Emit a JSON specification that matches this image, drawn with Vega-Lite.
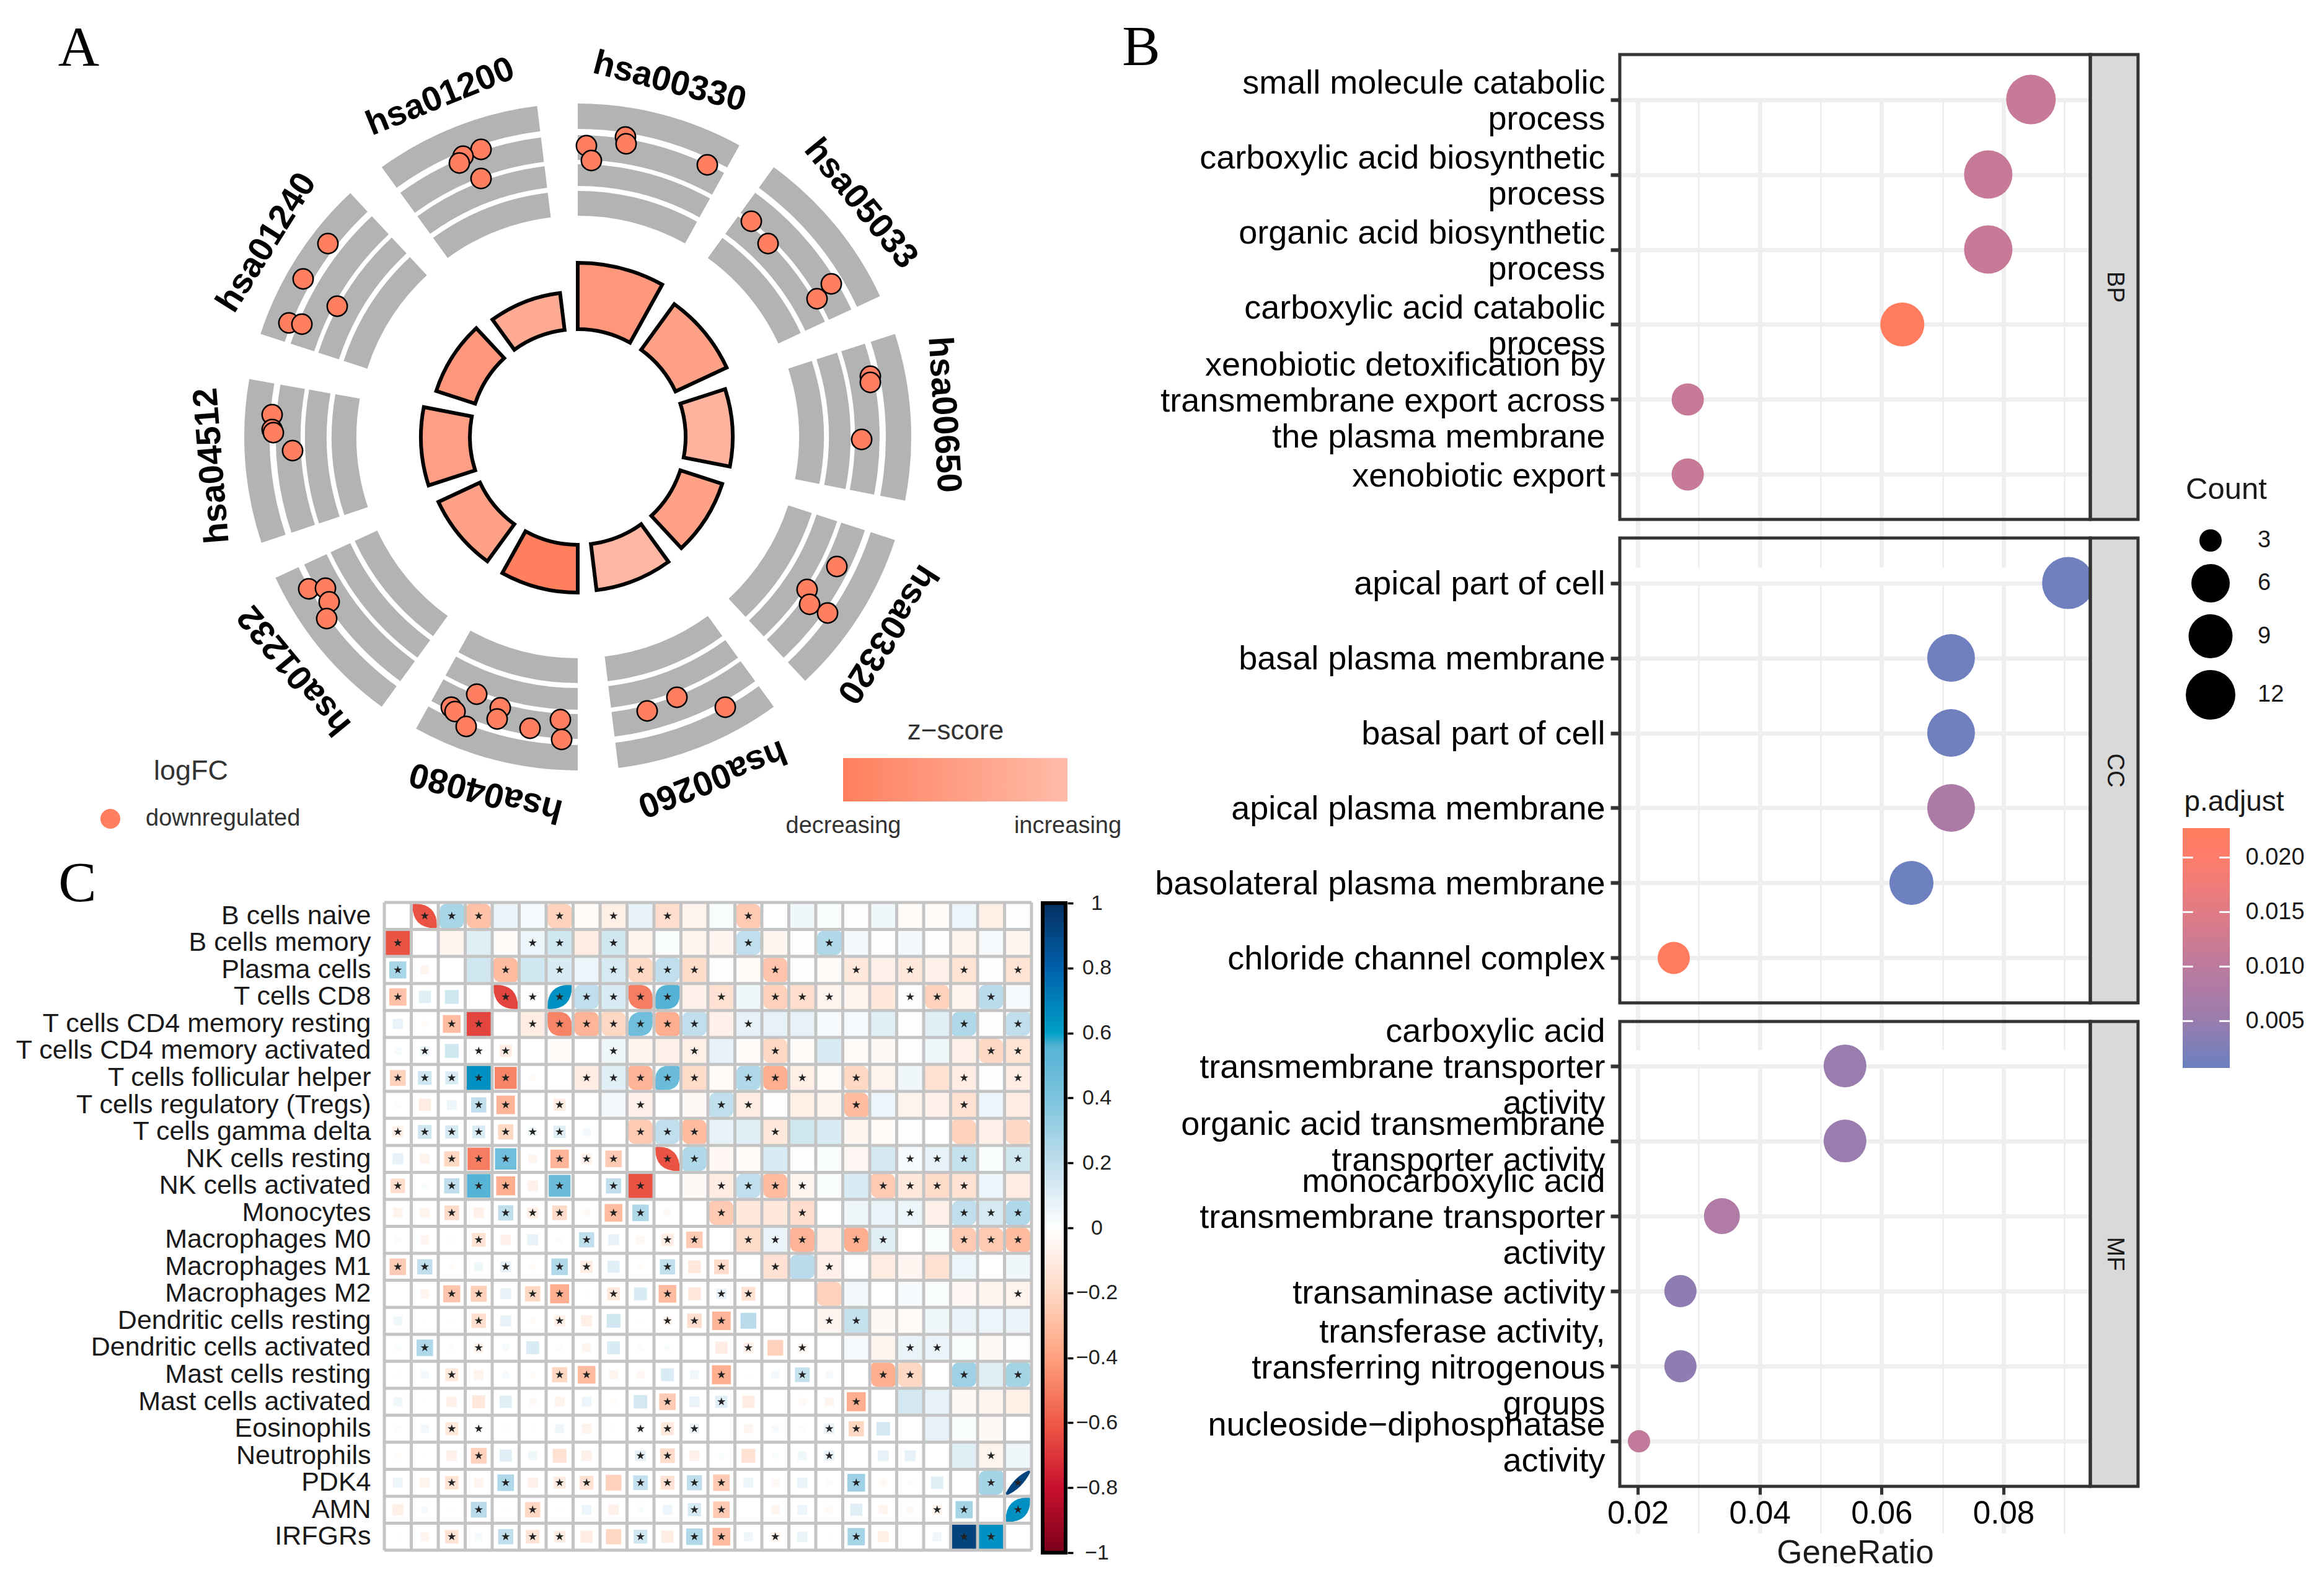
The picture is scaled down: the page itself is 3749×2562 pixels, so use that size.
{"$schema":"https://vega.github.io/schema/vega-lite/v6.json","width":3749,"height":2562,"padding":0,"autosize":{"type":"none"},"background":"white","config":{"font":"Liberation Sans","view":{"stroke":null},"axis":{"labelFont":"Liberation Sans","titleFont":"Liberation Sans"},"legend":{"labelFont":"Liberation Sans","titleFont":"Liberation Sans","titleFontWeight":"normal"}},
"datasets":{
"rings":[
{"a0":0,"a1":29,"r0":357,"r1":397},{"a0":0,"a1":29,"r0":405,"r1":440},{"a0":0,"a1":29,"r0":447,"r1":487},{"a0":0,"a1":29,"r0":497,"r1":538},
{"a0":36,"a1":65,"r0":357,"r1":397},{"a0":36,"a1":65,"r0":405,"r1":440},{"a0":36,"a1":65,"r0":447,"r1":487},{"a0":36,"a1":65,"r0":497,"r1":538},
{"a0":72,"a1":101,"r0":357,"r1":397},{"a0":72,"a1":101,"r0":405,"r1":440},{"a0":72,"a1":101,"r0":447,"r1":487},{"a0":72,"a1":101,"r0":497,"r1":538},
{"a0":108,"a1":137,"r0":357,"r1":397},{"a0":108,"a1":137,"r0":405,"r1":440},{"a0":108,"a1":137,"r0":447,"r1":487},{"a0":108,"a1":137,"r0":497,"r1":538},
{"a0":144,"a1":173,"r0":357,"r1":397},{"a0":144,"a1":173,"r0":405,"r1":440},{"a0":144,"a1":173,"r0":447,"r1":487},{"a0":144,"a1":173,"r0":497,"r1":538},
{"a0":180,"a1":209,"r0":357,"r1":397},{"a0":180,"a1":209,"r0":405,"r1":440},{"a0":180,"a1":209,"r0":447,"r1":487},{"a0":180,"a1":209,"r0":497,"r1":538},
{"a0":216,"a1":245,"r0":357,"r1":397},{"a0":216,"a1":245,"r0":405,"r1":440},{"a0":216,"a1":245,"r0":447,"r1":487},{"a0":216,"a1":245,"r0":497,"r1":538},
{"a0":251.5,"a1":280,"r0":357,"r1":397},{"a0":251.5,"a1":280,"r0":405,"r1":440},{"a0":251.5,"a1":280,"r0":447,"r1":487},{"a0":251.5,"a1":280,"r0":497,"r1":538},
{"a0":288,"a1":317,"r0":357,"r1":397},{"a0":288,"a1":317,"r0":405,"r1":440},{"a0":288,"a1":317,"r0":447,"r1":487},{"a0":288,"a1":317,"r0":497,"r1":538},
{"a0":324,"a1":353,"r0":357,"r1":397},{"a0":324,"a1":353,"r0":405,"r1":440},{"a0":324,"a1":353,"r0":447,"r1":487},{"a0":324,"a1":353,"r0":497,"r1":538}],
"terms":[
{"id":"hsa00330","a0":0,"a1":29,"mid":14.5,"top":281,"z":0.4},
{"id":"hsa05033","a0":36,"a1":65,"mid":50.5,"top":265,"z":0.55},
{"id":"hsa00650","a0":72,"a1":101,"mid":86.5,"top":250,"z":0.85},
{"id":"hsa03320","a0":108,"a1":137,"mid":122.5,"top":245,"z":0.55},
{"id":"hsa00260","a0":144,"a1":173,"mid":158.5,"top":249,"z":0.9},
{"id":"hsa04080","a0":180,"a1":209,"mid":194.5,"top":251,"z":0},
{"id":"hsa01232","a0":216,"a1":245,"mid":230.5,"top":248,"z":0.55},
{"id":"hsa04512","a0":252,"a1":281,"mid":265.5,"top":253,"z":0.5},
{"id":"hsa01240","a0":288,"a1":317,"mid":302,"top":240,"z":0.4},
{"id":"hsa01200","a0":324,"a1":353,"mid":338,"top":234,"z":0.7}],
"genes":[
{"x":77,"y":484,"logFC":"downregulated"},{"x":78,"y":473,"logFC":"downregulated"},{"x":14,"y":470,"logFC":"downregulated"},{"x":22,"y":446,"logFC":"downregulated"},{"x":209,"y":439,"logFC":"downregulated"},
{"x":280,"y":348,"logFC":"downregulated"},{"x":307,"y":312,"logFC":"downregulated"},{"x":409,"y":247,"logFC":"downregulated"},{"x":386,"y":223,"logFC":"downregulated"},
{"x":472,"y":98,"logFC":"downregulated"},{"x":472,"y":88,"logFC":"downregulated"},{"x":458,"y":-4,"logFC":"downregulated"},
{"x":418,"y":-209,"logFC":"downregulated"},{"x":370,"y":-246,"logFC":"downregulated"},{"x":374,"y":-270,"logFC":"downregulated"},{"x":403,"y":-284,"logFC":"downregulated"},
{"x":238,"y":-436,"logFC":"downregulated"},{"x":160,"y":-420,"logFC":"downregulated"},{"x":112,"y":-442,"logFC":"downregulated"},
{"x":-163,"y":-415,"logFC":"downregulated"},{"x":-204,"y":-436,"logFC":"downregulated"},{"x":-198,"y":-443,"logFC":"downregulated"},{"x":-180,"y":-467,"logFC":"downregulated"},{"x":-125,"y":-437,"logFC":"downregulated"},{"x":-130,"y":-455,"logFC":"downregulated"},{"x":-77,"y":-470,"logFC":"downregulated"},{"x":-28,"y":-456,"logFC":"downregulated"},{"x":-26,"y":-488,"logFC":"downregulated"},
{"x":-434,"y":-245,"logFC":"downregulated"},{"x":-407,"y":-244,"logFC":"downregulated"},{"x":-401,"y":-266,"logFC":"downregulated"},{"x":-405,"y":-293,"logFC":"downregulated"},
{"x":-493,"y":36,"logFC":"downregulated"},{"x":-493,"y":12,"logFC":"downregulated"},{"x":-491,"y":7,"logFC":"downregulated"},{"x":-460,"y":-22,"logFC":"downregulated"},
{"x":-403,"y":312,"logFC":"downregulated"},{"x":-443,"y":255,"logFC":"downregulated"},{"x":-388,"y":211,"logFC":"downregulated"},{"x":-466,"y":184,"logFC":"downregulated"},{"x":-445,"y":182,"logFC":"downregulated"},
{"x":-156,"y":464,"logFC":"downregulated"},{"x":-185,"y":453,"logFC":"downregulated"},{"x":-191,"y":442,"logFC":"downregulated"},{"x":-156,"y":417,"logFC":"downregulated"}],
"corr":[
{"i":1,"j":0,"r":-0.62,"s":1},
{"i":2,"j":0,"r":0.27,"s":1},{"i":2,"j":1,"r":-0.05},
{"i":3,"j":0,"r":-0.28,"s":1},{"i":3,"j":1,"r":0.1},{"i":3,"j":2,"r":0.15},
{"i":4,"j":0,"r":0.07},{"i":4,"j":1,"r":-0.02},{"i":4,"j":2,"r":-0.3,"s":1},{"i":4,"j":3,"r":-0.66,"s":1},
{"i":5,"j":0,"r":0.03},{"i":5,"j":1,"r":0.06,"s":1},{"i":5,"j":2,"r":0.15},{"i":5,"j":3,"r":0.01,"s":1},{"i":5,"j":4,"r":-0.1,"s":1},
{"i":6,"j":0,"r":-0.22,"s":1},{"i":6,"j":1,"r":0.15,"s":1},{"i":6,"j":2,"r":0.12,"s":1},{"i":6,"j":3,"r":0.65,"s":1},{"i":6,"j":4,"r":-0.48,"s":1},{"i":6,"j":5,"r":-0.02},
{"i":7,"j":0,"r":-0.02},{"i":7,"j":1,"r":-0.1},{"i":7,"j":2,"r":0.06},{"i":7,"j":3,"r":0.2,"s":1},{"i":7,"j":4,"r":-0.33,"s":1},{"i":7,"j":5,"r":0},{"i":7,"j":6,"r":-0.1,"s":1},
{"i":8,"j":0,"r":-0.08,"s":1},{"i":8,"j":1,"r":0.15,"s":1},{"i":8,"j":2,"r":0.13,"s":1},{"i":8,"j":3,"r":0.12,"s":1},{"i":8,"j":4,"r":-0.2,"s":1},{"i":8,"j":5,"r":0.05,"s":1},{"i":8,"j":6,"r":0.1,"s":1},{"i":8,"j":7,"r":0.04},
{"i":9,"j":0,"r":0.08},{"i":9,"j":1,"r":-0.06},{"i":9,"j":2,"r":-0.2,"s":1},{"i":9,"j":3,"r":-0.5,"s":1},{"i":9,"j":4,"r":0.45,"s":1},{"i":9,"j":5,"r":-0.05},{"i":9,"j":6,"r":-0.33,"s":1},{"i":9,"j":7,"r":-0.07,"s":1},{"i":9,"j":8,"r":-0.25,"s":1},
{"i":10,"j":0,"r":-0.17,"s":1},{"i":10,"j":1,"r":0.02},{"i":10,"j":2,"r":0.2,"s":1},{"i":10,"j":3,"r":0.55,"s":1},{"i":10,"j":4,"r":-0.35,"s":1},{"i":10,"j":5,"r":-0.07},{"i":10,"j":6,"r":0.47,"s":1},{"i":10,"j":7,"r":0},{"i":10,"j":8,"r":0.2,"s":1},{"i":10,"j":9,"r":-0.62,"s":1},
{"i":11,"j":0,"r":-0.06},{"i":11,"j":1,"r":-0.06},{"i":11,"j":2,"r":-0.18,"s":1},{"i":11,"j":3,"r":-0.07},{"i":11,"j":4,"r":0.2,"s":1},{"i":11,"j":5,"r":-0.08,"s":1},{"i":11,"j":6,"r":-0.18,"s":1},{"i":11,"j":7,"r":-0.03},{"i":11,"j":8,"r":-0.3,"s":1},{"i":11,"j":9,"r":0.25,"s":1},{"i":11,"j":10,"r":-0.03},
{"i":12,"j":0,"r":0.02},{"i":12,"j":1,"r":-0.05},{"i":12,"j":2,"r":0.01},{"i":12,"j":3,"r":-0.15,"s":1},{"i":12,"j":4,"r":-0.07},{"i":12,"j":5,"r":0.08},{"i":12,"j":6,"r":-0.02},{"i":12,"j":7,"r":0.2,"s":1},{"i":12,"j":8,"r":0.08},{"i":12,"j":9,"r":-0.04},{"i":12,"j":10,"r":-0.1,"s":1},{"i":12,"j":11,"r":-0.25,"s":1},
{"i":13,"j":0,"r":-0.25,"s":1},{"i":13,"j":1,"r":0.2,"s":1},{"i":13,"j":2,"r":-0.02},{"i":13,"j":3,"r":0.05},{"i":13,"j":4,"r":0.08,"s":1},{"i":13,"j":5,"r":-0.02},{"i":13,"j":6,"r":0.25,"s":1},{"i":13,"j":7,"r":-0.1,"s":1},{"i":13,"j":8,"r":0.1},{"i":13,"j":9,"r":-0.02},{"i":13,"j":10,"r":0.2,"s":1},{"i":13,"j":11,"r":-0.12},{"i":13,"j":12,"r":-0.18,"s":1},
{"i":14,"j":0,"r":0},{"i":14,"j":1,"r":-0.05},{"i":14,"j":2,"r":-0.27,"s":1},{"i":14,"j":3,"r":-0.23,"s":1},{"i":14,"j":4,"r":0.08},{"i":14,"j":5,"r":-0.2,"s":1},{"i":14,"j":6,"r":-0.35,"s":1},{"i":14,"j":7,"r":0.01},{"i":14,"j":8,"r":-0.12,"s":1},{"i":14,"j":9,"r":0.12},{"i":14,"j":10,"r":-0.3,"s":1},{"i":14,"j":11,"r":-0.12},{"i":14,"j":12,"r":0.07,"s":1},{"i":14,"j":13,"r":-0.15,"s":1},
{"i":15,"j":0,"r":0.05},{"i":15,"j":1,"r":-0.01},{"i":15,"j":2,"r":0.01},{"i":15,"j":3,"r":-0.17,"s":1},{"i":15,"j":4,"r":0.08},{"i":15,"j":5,"r":-0.02},{"i":15,"j":6,"r":-0.08,"s":1},{"i":15,"j":7,"r":-0.08},{"i":15,"j":8,"r":0.15},{"i":15,"j":9,"r":0.01},{"i":15,"j":10,"r":-0.05,"s":1},{"i":15,"j":11,"r":-0.17,"s":1},{"i":15,"j":12,"r":-0.33,"s":1},{"i":15,"j":13,"r":0.22},{"i":15,"j":14,"r":0},
{"i":16,"j":0,"r":0.02},{"i":16,"j":1,"r":0.25,"s":1},{"i":16,"j":2,"r":-0.02},{"i":16,"j":3,"r":-0.06,"s":1},{"i":16,"j":4,"r":0.03},{"i":16,"j":5,"r":0.12},{"i":16,"j":6,"r":-0.02},{"i":16,"j":7,"r":-0.05},{"i":16,"j":8,"r":0.12},{"i":16,"j":9,"r":0.02},{"i":16,"j":10,"r":0.02},{"i":16,"j":11,"r":0},{"i":16,"j":12,"r":-0.1},{"i":16,"j":13,"r":-0.07,"s":1},{"i":16,"j":14,"r":-0.22},{"i":16,"j":15,"r":-0.05,"s":1},
{"i":17,"j":0,"r":0.01},{"i":17,"j":1,"r":0.04},{"i":17,"j":2,"r":-0.12,"s":1},{"i":17,"j":3,"r":-0.06},{"i":17,"j":4,"r":0.03},{"i":17,"j":5,"r":-0.02},{"i":17,"j":6,"r":-0.2,"s":1},{"i":17,"j":7,"r":-0.3,"s":1},{"i":17,"j":8,"r":-0.05},{"i":17,"j":9,"r":-0.04},{"i":17,"j":10,"r":0.12},{"i":17,"j":11,"r":0.05},{"i":17,"j":12,"r":-0.35,"s":1},{"i":17,"j":13,"r":-0.01},{"i":17,"j":14,"r":0.04},{"i":17,"j":15,"r":0.18,"s":1},{"i":17,"j":16,"r":0.03},
{"i":18,"j":0,"r":0.05},{"i":18,"j":1,"r":-0.01},{"i":18,"j":2,"r":-0.07},{"i":18,"j":3,"r":-0.12},{"i":18,"j":4,"r":0.1},{"i":18,"j":5,"r":-0.03},{"i":18,"j":6,"r":-0.06},{"i":18,"j":7,"r":0.06},{"i":18,"j":8,"r":-0.02},{"i":18,"j":9,"r":0.14},{"i":18,"j":10,"r":-0.25,"s":1},{"i":18,"j":11,"r":0.07},{"i":18,"j":12,"r":0.1,"s":1},{"i":18,"j":13,"r":-0.1},{"i":18,"j":14,"r":0},{"i":18,"j":15,"r":-0.03},{"i":18,"j":16,"r":-0.05},{"i":18,"j":17,"r":-0.35,"s":1},
{"i":19,"j":0,"r":-0.02},{"i":19,"j":1,"r":0.04},{"i":19,"j":2,"r":-0.12,"s":1},{"i":19,"j":3,"r":0.01,"s":1},{"i":19,"j":4,"r":0.01},{"i":19,"j":5,"r":-0.01},{"i":19,"j":6,"r":0.05},{"i":19,"j":7,"r":-0.06},{"i":19,"j":8,"r":0.01},{"i":19,"j":9,"r":0.03,"s":1},{"i":19,"j":10,"r":-0.12,"s":1},{"i":19,"j":11,"r":0.06,"s":1},{"i":19,"j":12,"r":0},{"i":19,"j":13,"r":-0.05},{"i":19,"j":14,"r":0.03},{"i":19,"j":15,"r":-0.02},{"i":19,"j":16,"r":0.07,"s":1},{"i":19,"j":17,"r":-0.2,"s":1},{"i":19,"j":18,"r":0.14},
{"i":20,"j":0,"r":-0.02},{"i":20,"j":1,"r":-0.01},{"i":20,"j":2,"r":-0.07},{"i":20,"j":3,"r":-0.22,"s":1},{"i":20,"j":4,"r":0.1},{"i":20,"j":5,"r":0.05},{"i":20,"j":6,"r":-0.15},{"i":20,"j":7,"r":-0.07},{"i":20,"j":8,"r":0},{"i":20,"j":9,"r":0.08,"s":1},{"i":20,"j":10,"r":-0.18,"s":1},{"i":20,"j":11,"r":-0.07},{"i":20,"j":12,"r":0.02},{"i":20,"j":13,"r":-0.15},{"i":20,"j":14,"r":0.02},{"i":20,"j":15,"r":0.05},{"i":20,"j":16,"r":0.07,"s":1},{"i":20,"j":17,"r":0},{"i":20,"j":18,"r":0.08},{"i":20,"j":19,"r":0.08},
{"i":21,"j":0,"r":0.06},{"i":21,"j":1,"r":-0.06},{"i":21,"j":2,"r":-0.14,"s":1},{"i":21,"j":3,"r":-0.05},{"i":21,"j":4,"r":0.25,"s":1},{"i":21,"j":5,"r":-0.07},{"i":21,"j":6,"r":-0.1,"s":1},{"i":21,"j":7,"r":-0.15,"s":1},{"i":21,"j":8,"r":-0.22},{"i":21,"j":9,"r":0.18,"s":1},{"i":21,"j":10,"r":-0.15,"s":1},{"i":21,"j":11,"r":0.2,"s":1},{"i":21,"j":12,"r":-0.25,"s":1},{"i":21,"j":13,"r":0.06},{"i":21,"j":14,"r":-0.04},{"i":21,"j":15,"r":0.07},{"i":21,"j":16,"r":0.02},{"i":21,"j":17,"r":0.3,"s":1},{"i":21,"j":18,"r":-0.03},{"i":21,"j":19,"r":0.02},{"i":21,"j":20,"r":0.1},
{"i":22,"j":0,"r":-0.08},{"i":22,"j":1,"r":0.03},{"i":22,"j":2,"r":-0.01},{"i":22,"j":3,"r":0.22,"s":1},{"i":22,"j":4,"r":-0.01},{"i":22,"j":5,"r":-0.2,"s":1},{"i":22,"j":6,"r":0.01},{"i":22,"j":7,"r":0.06},{"i":22,"j":8,"r":-0.07},{"i":22,"j":9,"r":0.02},{"i":22,"j":10,"r":0.06},{"i":22,"j":11,"r":0.13,"s":1},{"i":22,"j":12,"r":-0.25,"s":1},{"i":22,"j":13,"r":0},{"i":22,"j":14,"r":-0.05},{"i":22,"j":15,"r":0.06},{"i":22,"j":16,"r":-0.03},{"i":22,"j":17,"r":0.1},{"i":22,"j":18,"r":-0.05},{"i":22,"j":19,"r":-0.03},{"i":22,"j":20,"r":-0.06,"s":1},{"i":22,"j":21,"r":0.28,"s":1},
{"i":23,"j":0,"r":0.01},{"i":23,"j":1,"r":-0.05},{"i":23,"j":2,"r":-0.14,"s":1},{"i":23,"j":3,"r":0.03},{"i":23,"j":4,"r":0.2,"s":1},{"i":23,"j":5,"r":-0.14,"s":1},{"i":23,"j":6,"r":-0.09,"s":1},{"i":23,"j":7,"r":-0.1},{"i":23,"j":8,"r":-0.2},{"i":23,"j":9,"r":0.15,"s":1},{"i":23,"j":10,"r":-0.1},{"i":23,"j":11,"r":0.25,"s":1},{"i":23,"j":12,"r":-0.3,"s":1},{"i":23,"j":13,"r":0.05},{"i":23,"j":14,"r":-0.06,"s":1},{"i":23,"j":15,"r":0.07},{"i":23,"j":16,"r":0.01},{"i":23,"j":17,"r":0.28,"s":1},{"i":23,"j":18,"r":-0.08},{"i":23,"j":19,"r":0},{"i":23,"j":20,"r":0.05},{"i":23,"j":21,"r":0.92,"s":1},{"i":23,"j":22,"r":0.65,"s":1}],
"lines":[{"k":0,"lo":0,"hi":24},{"k":1,"lo":0,"hi":24},{"k":2,"lo":0,"hi":24},{"k":3,"lo":0,"hi":24},{"k":4,"lo":0,"hi":24},{"k":5,"lo":0,"hi":24},{"k":6,"lo":0,"hi":24},{"k":7,"lo":0,"hi":24},{"k":8,"lo":0,"hi":24},{"k":9,"lo":0,"hi":24},{"k":10,"lo":0,"hi":24},{"k":11,"lo":0,"hi":24},{"k":12,"lo":0,"hi":24},{"k":13,"lo":0,"hi":24},{"k":14,"lo":0,"hi":24},{"k":15,"lo":0,"hi":24},{"k":16,"lo":0,"hi":24},{"k":17,"lo":0,"hi":24},{"k":18,"lo":0,"hi":24},{"k":19,"lo":0,"hi":24},{"k":20,"lo":0,"hi":24},{"k":21,"lo":0,"hi":24},{"k":22,"lo":0,"hi":24},{"k":23,"lo":0,"hi":24},{"k":24,"lo":0,"hi":24}],
"panels":[{"panel":"BP","a":0,"b":1},{"panel":"CC","a":0,"b":1},{"panel":"MF","a":0,"b":1}],
"padjticks":[{"p":0.005,"a":0,"b":0.22},{"p":0.005,"a":0.78,"b":1},{"p":0.01,"a":0,"b":0.22},{"p":0.01,"a":0.78,"b":1},{"p":0.015,"a":0,"b":0.22},{"p":0.015,"a":0.78,"b":1},{"p":0.02,"a":0,"b":0.22},{"p":0.02,"a":0.78,"b":1}],
"tags":[{"t":"A","x":-805,"y":627},{"t":"B","x":909,"y":628},{"t":"C","x":-807,"y":-721}],
"BP":[{"term":"small molecule catabolic\nprocess","GeneRatio":0.0845,"Count":12,"p":0.0115},{"term":"carboxylic acid biosynthetic\nprocess","GeneRatio":0.0775,"Count":11,"p":0.0115},{"term":"organic acid biosynthetic\nprocess","GeneRatio":0.0775,"Count":11,"p":0.0115},{"term":"carboxylic acid catabolic\nprocess","GeneRatio":0.0634,"Count":9,"p":0.0227},{"term":"xenobiotic detoxification by\ntransmembrane export across\nthe plasma membrane","GeneRatio":0.0282,"Count":4,"p":0.0115},{"term":"xenobiotic export","GeneRatio":0.0282,"Count":4,"p":0.0115}],
"CC":[{"term":"apical part of cell","GeneRatio":0.0906,"Count":13,"p":0.0012},{"term":"basal plasma membrane","GeneRatio":0.0714,"Count":10,"p":0.0012},{"term":"basal part of cell","GeneRatio":0.0714,"Count":10,"p":0.0012},{"term":"apical plasma membrane","GeneRatio":0.0714,"Count":10,"p":0.0075},{"term":"basolateral plasma membrane","GeneRatio":0.0649,"Count":9,"p":0.001},{"term":"chloride channel complex","GeneRatio":0.0259,"Count":4,"p":0.0227}],
"MF":[{"term":"carboxylic acid\ntransmembrane transporter\nactivity","GeneRatio":0.054,"Count":8,"p":0.005},{"term":"organic acid transmembrane\ntransporter activity","GeneRatio":0.054,"Count":8,"p":0.005},{"term":"monocarboxylic acid\ntransmembrane transporter\nactivity","GeneRatio":0.0338,"Count":5,"p":0.0082},{"term":"transaminase activity","GeneRatio":0.027,"Count":4,"p":0.004},{"term":"transferase activity,\ntransferring nitrogenous\ngroups","GeneRatio":0.027,"Count":4,"p":0.004},{"term":"nucleoside−diphosphatase\nactivity","GeneRatio":0.0202,"Count":3,"p":0.0108}]
},
"layer":[
{"layer":[
{"data":{"name":"rings"},"mark":{"type":"arc","fill":"#B3B3B3"},"encoding":{"x":{"datum":0,"type":"quantitative","scale":{"domain":[-932,932],"range":[0,1864]},"axis":null},"y":{"datum":0,"type":"quantitative","scale":{"domain":[-705,705],"range":[1410,0]},"axis":null},"theta":{"field":"a0","type":"quantitative","stack":null,"scale":{"domain":[0,360],"range":[0,6.28318]}},"theta2":{"field":"a1"},"radius":{"field":"r1","type":"quantitative","scale":{"type":"linear","domain":[0,1000],"range":[0,1000]}},"radius2":{"field":"r0"}}},
{"data":{"name":"terms"},"mark":{"type":"arc","stroke":"black","strokeWidth":6,"radius2":174},"encoding":{"x":{"datum":0,"type":"quantitative","scale":{"domain":[-932,932],"range":[0,1864]},"axis":null},"y":{"datum":0,"type":"quantitative","scale":{"domain":[-705,705],"range":[1410,0]},"axis":null},"theta":{"field":"a0","type":"quantitative","stack":null,"scale":{"domain":[0,360],"range":[0,6.28318]}},"theta2":{"field":"a1"},"radius":{"field":"top","type":"quantitative","scale":{"type":"linear","domain":[0,1000],"range":[0,1000]}},"fill":{"field":"z","type":"quantitative","scale":{"domain":[0,1],"range":["#FF7F5E","#FFBCA9"],"interpolate":"rgb"},"legend":null}}},
{"data":{"name":"terms"},"mark":{"type":"text","fontWeight":"bold","fontSize":56,"color":"black","radius":592},"encoding":{"x":{"datum":0,"type":"quantitative","scale":{"domain":[-932,932],"range":[0,1864]},"axis":null},"y":{"datum":0,"type":"quantitative","scale":{"domain":[-705,705],"range":[1410,0]},"axis":null},"theta":{"field":"mid","type":"quantitative","stack":null,"scale":{"domain":[0,360],"range":[0,6.28318]}},"angle":{"field":"mid","type":"quantitative","scale":{"domain":[0,360],"range":[0,360]},"legend":null},"text":{"field":"id"}}},
{"data":{"name":"genes"},"mark":{"type":"point","filled":true,"size":1050,"opacity":1,"stroke":"black","strokeWidth":2.5},"encoding":{"x":{"field":"x","type":"quantitative","scale":{"domain":[-932,932],"range":[0,1864]},"axis":null},"y":{"field":"y","type":"quantitative","scale":{"domain":[-705,705],"range":[1410,0]},"axis":null},"color":{"field":"logFC","type":"nominal","scale":{"domain":["downregulated"],"range":["#FF7F60"]},"legend":{"orient":"none","legendX":248,"legendY":1222,"title":"logFC","titleFontSize":45,"titleColor":"#333333","titlePadding":35,"labelFontSize":38,"labelColor":"#333333","labelLimit":500,"symbolSize":1024,"symbolStrokeWidth":0,"symbolOffset":-89,"labelOffset":38}}}},
{"data":{"name":"tags"},"mark":{"type":"text","font":"Liberation Serif","fontSize":92,"color":"black","align":"center","baseline":"middle"},"encoding":{"x":{"field":"x","type":"quantitative","scale":{"domain":[-932,932],"range":[0,1864]},"axis":null},"y":{"field":"y","type":"quantitative","scale":{"domain":[-705,705],"range":[1410,0]},"axis":null},"text":{"field":"t"}}}
]},
{"data":{"values":[{"a":0,"b":1,"lo":0,"hi":1}]},"mark":{"type":"rect","fill":{"gradient":"linear","x1":0,"y1":0,"x2":1,"y2":0,"stops":[{"offset":0,"color":"#FF7F5E"},{"offset":1,"color":"#FFBCA9"}]}},"encoding":{"x":{"field":"a","type":"quantitative","scale":{"domain":[0,1],"range":[1360,1722],"nice":false},"axis":{"orient":"bottom","offset":-1269,"title":"z−score","titleFontSize":44,"titleFontWeight":"normal","titleColor":"#333333","titleAlign":"center","titleBaseline":"middle","titleX":1541,"titleY":-114,"values":[0,1],"domain":false,"grid":false,"ticks":false,"labelPadding":20,"labelFontSize":38,"labelLimit":0,"labelColor":"#333333","labelFlush":false,"labelBound":false,"labelOverlap":false,"labelExpr":"datum.value==0?'decreasing':'increasing'"}},"x2":{"field":"b"},"y":{"field":"lo","type":"quantitative","scale":{"domain":[0,1],"range":[1293,1223],"nice":false},"axis":null},"y2":{"field":"hi"}}},
{"data":{"name":"corr"},
"layer":[
{"mark":{"type":"square","size":1,"opacity":1},"encoding":{"x":{"field":"j","type":"ordinal","scale":{"type":"band","domain":[0,1,2,3,4,5,6,7,8,9,10,11,12,13,14,15,16,17,18,19,20,21,22,23],"range":[620,1664],"paddingInner":0,"paddingOuter":0},"axis":null},"y":{"field":"i","type":"ordinal","scale":{"type":"band","domain":[0,1,2,3,4,5,6,7,8,9,10,11,12,13,14,15,16,17,18,19,20,21,22,23],"range":[1456,2501],"paddingInner":0,"paddingOuter":0},"axis":{"orient":"left","offset":-620,"title":null,"domain":false,"ticks":false,"labelPadding":22,"labelFontSize":43,"labelColor":"#1a1a1a","labelLimit":0,"labelOverlap":false,"labelAngle":0,"labelExpr":"['B cells naive','B cells memory','Plasma cells','T cells CD8','T cells CD4 memory resting','T cells CD4 memory activated','T cells follicular helper','T cells regulatory (Tregs)','T cells gamma delta','NK cells resting','NK cells activated','Monocytes','Macrophages M0','Macrophages M1','Macrophages M2','Dendritic cells resting','Dendritic cells activated','Mast cells resting','Mast cells activated','Eosinophils','Neutrophils','PDK4','AMN','IRFGRs'][datum.value]"}},"size":{"field":"r","type":"quantitative","scale":{"domain":[-0.6,-0.3,-0.1,-0.03,0,0.03,0.1,0.3,0.6],"range":[1560,820,390,140,0,140,390,820,1560],"clamp":true},"legend":null},"color":{"field":"r","type":"quantitative","scale":{"domain":[-1,-0.8,-0.6,-0.4,-0.2,0,0.2,0.4,0.56,0.6,0.8,1],"range":["#7A0019","#C8102E","#EE5A45","#FFA07E","#FFD8C4","#FFFFFF","#C0DEEC","#7CC4DE","#55B2D4","#00A0C8","#0060AA","#053061"],"interpolate":"rgb"},"legend":null}}},
{"layer":[
{"transform":[{"filter":"abs(datum.r)<0.2"}],"mark":{"type":"point","filled":true,"opacity":1,"size":1560,"shape":"M-0.85,-1 L0.85,-1 Q1,-1 1,-0.85 L1,0.85 Q1,1 0.85,1 L-0.85,1 Q-1,1 -1,0.85 L-1,-0.85 Q-1,-1 -0.85,-1Z"}},
{"transform":[{"filter":"datum.r>=0.2&&datum.r<0.38"}],"mark":{"type":"point","filled":true,"opacity":1,"size":1560,"shape":"M-0.35,-1 L0.65,-1 Q1,-1 1,-0.65 L1,0.35 Q1,1 0.35,1 L-0.65,1 Q-1,1 -1,0.65 L-1,-0.35 Q-1,-1 -0.35,-1Z"}},
{"transform":[{"filter":"datum.r<=-0.2&&datum.r>-0.38"}],"mark":{"type":"point","filled":true,"opacity":1,"size":1560,"shape":"M0.35,-1 L-0.65,-1 Q-1,-1 -1,-0.65 L-1,0.35 Q-1,1 -0.35,1 L0.65,1 Q1,1 1,0.65 L1,-0.35 Q1,-1 0.35,-1Z"}},
{"transform":[{"filter":"datum.r>=0.38&&datum.r<0.6"}],"mark":{"type":"point","filled":true,"opacity":1,"size":1560,"shape":"M0.2,-1 L0.75,-1 Q1,-1 1,-0.75 L1,-0.2 Q1,1 -0.2,1 L-0.75,1 Q-1,1 -1,0.75 L-1,0.2 Q-1,-1 0.2,-1Z"}},
{"transform":[{"filter":"datum.r<=-0.38&&datum.r>-0.6"}],"mark":{"type":"point","filled":true,"opacity":1,"size":1560,"shape":"M-0.2,-1 L-0.75,-1 Q-1,-1 -1,-0.75 L-1,-0.2 Q-1,1 0.2,1 L0.75,1 Q1,1 1,0.75 L1,0.2 Q1,-1 -0.2,-1Z"}},
{"transform":[{"filter":"datum.r>=0.6&&datum.r<0.85"}],"mark":{"type":"point","filled":true,"opacity":1,"size":1560,"shape":"M0.85,-1 Q1,-1 1,-0.85 Q1,1 -0.85,1 Q-1,1 -1,0.85 Q-1,-1 0.85,-1Z"}},
{"transform":[{"filter":"datum.r<=-0.6"}],"mark":{"type":"point","filled":true,"opacity":1,"size":1560,"shape":"M-0.85,-1 Q-1,-1 -1,-0.85 Q-1,1 0.85,1 Q1,1 1,0.85 Q1,-1 -0.85,-1Z"}},
{"transform":[{"filter":"datum.r>=0.85"}],"mark":{"type":"point","filled":true,"opacity":1,"size":1560,"shape":"M0.85,-1 Q1,-1 1,-0.85 Q0.3,0.5 -0.85,1 Q-1,1 -1,0.85 Q-0.3,-0.5 0.85,-1Z"}}
],"encoding":{"x":{"field":"i","type":"ordinal"},"y":{"field":"j","type":"ordinal"},"color":{"field":"r","type":"quantitative"}}},
{"transform":[{"filter":"datum.s==1"}],"mark":{"type":"point","filled":true,"opacity":1,"size":200,"color":"#222222","shape":"M0,-1 L0.22,-0.31 L0.95,-0.31 L0.36,0.12 L0.59,0.81 L0,0.38 L-0.59,0.81 L-0.36,0.12 L-0.95,-0.31 L-0.22,-0.31Z"},"encoding":{"x":{"field":"j","type":"ordinal"},"y":{"field":"i","type":"ordinal"}}},
{"transform":[{"filter":"datum.s==1"}],"mark":{"type":"point","filled":true,"opacity":1,"size":200,"color":"#222222","shape":"M0,-1 L0.22,-0.31 L0.95,-0.31 L0.36,0.12 L0.59,0.81 L0,0.38 L-0.59,0.81 L-0.36,0.12 L-0.95,-0.31 L-0.22,-0.31Z"},"encoding":{"x":{"field":"i","type":"ordinal"},"y":{"field":"j","type":"ordinal"}}}
]},
{"data":{"name":"lines"},"mark":{"type":"rule","color":"#C4C4C4","strokeWidth":5},"encoding":{"x":{"field":"k","type":"quantitative","scale":{"domain":[0,24],"range":[620,1664]},"axis":null},"y":{"field":"lo","type":"quantitative","scale":{"domain":[0,24],"range":[1456,2501]},"axis":null},"y2":{"field":"hi"}}},
{"data":{"name":"lines"},"mark":{"type":"rule","color":"#C4C4C4","strokeWidth":5},"encoding":{"y":{"field":"k","type":"quantitative","scale":{"domain":[0,24],"range":[1456,2501]},"axis":null},"x":{"field":"lo","type":"quantitative","scale":{"domain":[0,24],"range":[620,1664]},"axis":null},"x2":{"field":"hi"}}},
{"data":{"values":[{"a":0,"b":1,"lo":-1,"hi":1}]},"mark":{"type":"rect","stroke":"black","strokeWidth":6,"fill":{"gradient":"linear","x1":0,"y1":0,"x2":0,"y2":1,"stops":[{"offset":0,"color":"#053061"},{"offset":0.1,"color":"#0060AA"},{"offset":0.2,"color":"#00A0C8"},{"offset":0.22,"color":"#55B2D4"},{"offset":0.3,"color":"#7CC4DE"},{"offset":0.4,"color":"#C0DEEC"},{"offset":0.5,"color":"#FFFFFF"},{"offset":0.6,"color":"#FFD8C4"},{"offset":0.7,"color":"#FFA07E"},{"offset":0.8,"color":"#EE5A45"},{"offset":0.9,"color":"#C8102E"},{"offset":1,"color":"#7A0019"}]}},"encoding":{"x":{"field":"a","type":"quantitative","scale":{"domain":[0,1],"range":[1682,1719]},"axis":null},"x2":{"field":"b"},"y":{"field":"lo","type":"quantitative","scale":{"domain":[-1,1],"range":[2505,1457]},"axis":{"orient":"right","offset":-2027,"title":null,"values":[-1,-0.8,-0.6,-0.4,-0.2,0,0.2,0.4,0.6,0.8,1],"domain":false,"grid":false,"tickColor":"black","tickSize":9,"tickWidth":3.5,"labelAlign":"center","labelPadding":38,"labelFontSize":34,"labelColor":"#222222","labelOverlap":false,"labelBound":false,"labelFlush":false,"labelExpr":"datum.value==0?'0':format(datum.value,'.1~f')"}},"y2":{"field":"hi"}}},
{"data":{"name":"BP"},"mark":{"type":"circle","opacity":1},"encoding":{"x":{"field":"GeneRatio","type":"quantitative","scale":{"domain":[0.01705,0.09424],"range":[2613,3372],"nice":false,"zero":false},"axis":{"orient":"bottom","offset":-1724,"title":null,"labels":false,"ticks":false,"domain":false,"grid":true,"gridColor":"#EFEFEF","values":[0.02,0.03,0.04,0.05,0.06,0.07,0.08,0.09],"gridWidth":{"condition":{"test":"round(datum.value*100)%2==1","value":3},"value":7}}},"y":{"field":"term","type":"nominal","sort":null,"scale":{"type":"point","domain":["small molecule catabolic\nprocess","carboxylic acid biosynthetic\nprocess","organic acid biosynthetic\nprocess","carboxylic acid catabolic\nprocess","xenobiotic detoxification by\ntransmembrane export across\nthe plasma membrane","xenobiotic export"],"range":[88,838],"padding":0.6},"axis":{"orient":"left","offset":-2613,"title":null,"domain":false,"grid":true,"gridColor":"#EFEFEF","gridWidth":7,"tickColor":"#333333","tickSize":15,"tickWidth":6,"labelPadding":9,"labelFontSize":54,"labelLineHeight":58,"labelColor":"black","labelLimit":0,"labelOverlap":false,"labelAngle":0,"labelBaseline":"middle","labelOffset":{"condition":[{"test":"length(split(datum.value,'\\n'))==2","value":-26},{"test":"length(split(datum.value,'\\n'))==3","value":-55}],"value":3},"labelExpr":"split(datum.label,'\\n')"}},"size":{"field":"Count","type":"quantitative","scale":{"domain":[3,4,5,6,8,9,10,11,12,13],"range":[1296,2704,3364,3844,4761,5041,5929,6084,6400,7056]},"legend":{"orient":"none","legendX":3526,"legendY":766,"title":"Count","titleFontSize":49,"titleColor":"#1a1a1a","titlePadding":38,"values":[3,6,9,12],"symbolFillColor":"black","symbolStrokeWidth":0,"symbolOpacity":1,"rowPadding":19,"labelFontSize":38,"labelColor":"#1a1a1a","labelOffset":36}},"color":{"field":"p","type":"quantitative","scale":{"domain":[0.0007,0.005,0.01,0.015,0.02,0.0227],"range":["#6A80C0","#9A7CAE","#BC7A9E","#E07B85","#FF7D6C","#FF7D5E"],"interpolate":"rgb"},"legend":null}}},
{"data":{"name":"CC"},"mark":{"type":"circle","opacity":1},"encoding":{"x":{"field":"GeneRatio","type":"quantitative","scale":{"domain":[0.01705,0.09424],"range":[2613,3372],"nice":false,"zero":false},"axis":{"orient":"bottom","offset":-944,"title":null,"labels":false,"ticks":false,"domain":false,"grid":true,"gridColor":"#EFEFEF","values":[0.02,0.03,0.04,0.05,0.06,0.07,0.08,0.09],"gridWidth":{"condition":{"test":"round(datum.value*100)%2==1","value":3},"value":7}}},"y":{"field":"term","type":"nominal","sort":null,"scale":{"type":"point","domain":["apical part of cell","basal plasma membrane","basal part of cell","apical plasma membrane","basolateral plasma membrane","chloride channel complex"],"range":[868,1618],"padding":0.6},"axis":{"orient":"left","offset":-2613,"title":null,"domain":false,"grid":true,"gridColor":"#EFEFEF","gridWidth":7,"tickColor":"#333333","tickSize":15,"tickWidth":6,"labelPadding":9,"labelFontSize":54,"labelColor":"black","labelLimit":0,"labelOverlap":false,"labelAngle":0,"labelBaseline":"middle","labelOffset":2}},"size":{"field":"Count","type":"quantitative","scale":{"domain":[3,4,5,6,8,9,10,11,12,13],"range":[1296,2704,3364,3844,4761,5041,5929,6084,6400,7056]},"legend":null},"color":{"field":"p","type":"quantitative","scale":{"domain":[0.0007,0.005,0.01,0.015,0.02,0.0227],"range":["#6A80C0","#9A7CAE","#BC7A9E","#E07B85","#FF7D6C","#FF7D5E"],"interpolate":"rgb"},"legend":null}}},
{"data":{"name":"MF"},"mark":{"type":"circle","opacity":1},"encoding":{"x":{"field":"GeneRatio","type":"quantitative","scale":{"domain":[0.01705,0.09424],"range":[2613,3372],"nice":false,"zero":false},"axis":{"orient":"bottom","offset":-164,"title":"GeneRatio","titleFontSize":53,"titleFontWeight":"normal","titleColor":"#1a1a1a","titlePadding":12,"labels":true,"ticks":true,"domain":false,"grid":true,"gridColor":"#EFEFEF","values":[0.02,0.03,0.04,0.05,0.06,0.07,0.08,0.09],"gridWidth":{"condition":{"test":"round(datum.value*100)%2==1","value":3},"value":7},"tickColor":"#333333","tickSize":13,"tickWidth":5,"tickOpacity":{"condition":{"test":"round(datum.value*100)%2==1","value":0},"value":1},"labelFontSize":51,"labelColor":"black","labelPadding":6,"labelOverlap":false,"labelExpr":"round(datum.value*100)%2==1?'':format(datum.value,'.2f')"}},"y":{"field":"term","type":"nominal","sort":null,"scale":{"type":"point","domain":["carboxylic acid\ntransmembrane transporter\nactivity","organic acid transmembrane\ntransporter activity","monocarboxylic acid\ntransmembrane transporter\nactivity","transaminase activity","transferase activity,\ntransferring nitrogenous\ngroups","nucleoside−diphosphatase\nactivity"],"range":[1647,2398],"padding":0.6},"axis":{"orient":"left","offset":-2613,"title":null,"domain":false,"grid":true,"gridColor":"#EFEFEF","gridWidth":7,"tickColor":"#333333","tickSize":15,"tickWidth":6,"labelPadding":9,"labelFontSize":54,"labelLineHeight":58,"labelColor":"black","labelLimit":0,"labelOverlap":false,"labelAngle":0,"labelBaseline":"middle","labelOffset":{"condition":[{"test":"length(split(datum.value,'\\n'))==2","value":-26},{"test":"length(split(datum.value,'\\n'))==3","value":-55}],"value":3},"labelExpr":"split(datum.label,'\\n')"}},"size":{"field":"Count","type":"quantitative","scale":{"domain":[3,4,5,6,8,9,10,11,12,13],"range":[1296,2704,3364,3844,4761,5041,5929,6084,6400,7056]},"legend":null},"color":{"field":"p","type":"quantitative","scale":{"domain":[0.0007,0.005,0.01,0.015,0.02,0.0227],"range":["#6A80C0","#9A7CAE","#BC7A9E","#E07B85","#FF7D6C","#FF7D5E"],"interpolate":"rgb"},"legend":null}}},
{"data":{"name":"panels"},"mark":{"type":"rect","fill":"#D9D9D9","stroke":"#333333","strokeWidth":5},"encoding":{"x":{"field":"a","type":"quantitative","scale":{"domain":[0,1],"range":[3372,3449]},"axis":null},"x2":{"field":"b"},"y":{"field":"panel","type":"nominal","scale":{"type":"band","domain":["BP","CC","MF"],"range":[88,2398],"paddingInner":0.0385,"paddingOuter":0},"axis":null}}},
{"data":{"name":"panels"},"mark":{"type":"rect","fill":null,"stroke":"#333333","strokeWidth":5},"encoding":{"x":{"field":"a","type":"quantitative","scale":{"domain":[0,1],"range":[2613,3372]},"axis":null},"x2":{"field":"b"},"y":{"field":"panel","type":"nominal","scale":{"type":"band","domain":["BP","CC","MF"],"range":[88,2398],"paddingInner":0.0385,"paddingOuter":0},"axis":null}}},
{"data":{"name":"panels"},"mark":{"type":"text","angle":90,"fontSize":38,"color":"#1a1a1a","align":"center","baseline":"middle","x":3411},"encoding":{"y":{"field":"panel","type":"nominal","scale":{"type":"band","domain":["BP","CC","MF"],"range":[88,2398],"paddingInner":0.0385,"paddingOuter":0},"axis":null},"text":{"field":"panel"}}},
{"layer":[
{"data":{"values":[{"a":0,"b":1,"lo":0.0007,"hi":0.0227}]},"mark":{"type":"rect","fill":{"gradient":"linear","x1":0,"y1":1,"x2":0,"y2":0,"stops":[{"offset":0,"color":"#6A80C0"},{"offset":0.195,"color":"#9A7CAE"},{"offset":0.423,"color":"#BC7A9E"},{"offset":0.65,"color":"#E07B85"},{"offset":0.877,"color":"#FF7D6C"},{"offset":1,"color":"#FF7D5E"}]}},"encoding":{"x":{"field":"a","type":"quantitative","scale":{"domain":[0,1],"range":[3521,3597],"nice":false},"axis":null},"x2":{"field":"b"},"y":{"field":"lo","type":"quantitative","scale":{"domain":[0.0007,0.0227],"range":[1723,1336],"nice":false,"zero":false},"axis":{"orient":"right","offset":-152,"title":"p.adjust","titleFontSize":46,"titleFontWeight":"normal","titleColor":"#1a1a1a","titleAngle":0,"titleAlign":"left","titleBaseline":"middle","titleX":-74,"titleY":1293,"values":[0.005,0.01,0.015,0.02],"format":".3f","domain":false,"grid":false,"ticks":false,"labelPadding":25,"labelFontSize":38,"labelColor":"#1a1a1a","labelOverlap":false}},"y2":{"field":"hi"}}},
{"data":{"name":"padjticks"},"mark":{"type":"rule","color":"white","strokeWidth":3},"encoding":{"x":{"field":"a","type":"quantitative","scale":{"domain":[0,1],"range":[3521,3597],"nice":false},"axis":null},"x2":{"field":"b"},"y":{"field":"p","type":"quantitative","scale":{"domain":[0.0007,0.0227],"range":[1723,1336],"nice":false,"zero":false}}}}
]}
],
"resolve":{"scale":{"x":"independent","y":"independent","color":"independent","fill":"independent","size":"independent","theta":"independent","radius":"independent","angle":"independent"},"axis":{"x":"independent","y":"independent"},"legend":{"color":"independent","fill":"independent","size":"independent"}}}
